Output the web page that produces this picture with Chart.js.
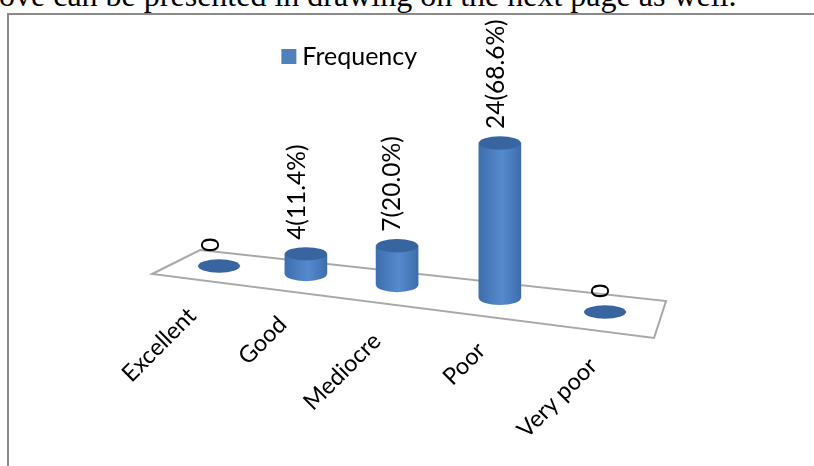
<!DOCTYPE html>
<html><head><meta charset="utf-8">
<style>
html,body{margin:0;padding:0;background:#fff;width:814px;height:466px;overflow:hidden}
#txt{position:absolute;left:-1px;top:-23px;font:32px "Liberation Serif",serif;color:#000;white-space:nowrap}
#frame{position:absolute;left:7px;top:13px;width:807px;height:453px;border-left:2px solid #8a8a8a;border-top:2px solid #8a8a8a;box-sizing:border-box}
#c{position:absolute;left:8px;top:15px}
</style></head><body>
<div id="txt">ove can be presented in drawing on the next page as well.</div>
<div id="frame"></div>
<canvas id="c" width="689" height="451"></canvas>
<script src="https://cdn.jsdelivr.net/npm/chart.js@4"></script>
<script>
const categories=["Excellent","Good","Mediocre","Poor","Very poor"];
const frequency=[0,4,7,24,0];
const dataLabels=["0","4(11.4%)","7(20.0%)","24(68.6%)","0"];
const seriesName="Frequency";
// apparent position of each category along the tilted floor
const xSlots=[0,0.90,1.845,2.91,4];
const floorLevels=[7.12,5.88,4.18,2.17,0];
const perspective=[1,0.78,0.87,1,1];
const floorX=[-0.694,-0.197,4.632,4.508];
const floorY=[5.88,9.6,1.70,-4.02];
// label placement, in axis units
const catLabelX=[-0.28,-0.24,-0.21,-0.19,-0.123];
const catLabelY=[0,-1.32,-3.88,-5.36,-7.76];
const valueNudge=[-8,-9,-5,-4,-4];

const barData=categories.map((c,i)=>({x:xSlots[i],y:[floorLevels[i],floorLevels[i]+frequency[i]*perspective[i]]}));

function shade(ctx){
  const chart=ctx.chart, i=ctx.dataIndex;
  if(i===undefined||!chart.scales.x) return '#4f81bd';
  const cx=chart.scales.x.getPixelForValue(xSlots[i]);
  const g=chart.ctx.createLinearGradient(cx-21,0,cx+21,0);
  g.addColorStop(0,'#3d6fae');g.addColorStop(0.15,'#4476b6');
  g.addColorStop(0.55,'#558ace');g.addColorStop(0.88,'#4476b6');g.addColorStop(1,'#3c6dab');
  return g;
}
function ellipse(c,x,y,rx,ry,fill){c.beginPath();c.ellipse(x,y,rx,ry,0,0,Math.PI*2);c.fillStyle=fill;c.fill();}

const scene={
  id:'scene',
  beforeDatasetsDraw(chart){
    const c=chart.ctx,{x,y}=chart.scales;
    c.save();
    c.beginPath();
    floorX.forEach((v,i)=>{const px=x.getPixelForValue(v),py=y.getPixelForValue(floorY[i]);i?c.lineTo(px,py):c.moveTo(px,py);});
    c.closePath();c.strokeStyle='#a8a8a8';c.lineWidth=2;c.stroke();
    chart.getDatasetMeta(0).data.forEach((b,i)=>{
      if(frequency[i]>0) ellipse(c,b.x,b.base,b.width/2,b.width*0.17,b.options.backgroundColor);
    });
    c.restore();
  },
  afterDatasetsDraw(chart){
    const c=chart.ctx,{x,y}=chart.scales;
    c.save();
    chart.getDatasetMeta(0).data.forEach((b,i)=>{
      ellipse(c,b.x,b.y,b.width/2,b.width*0.16,'#38659f');
      c.save();
      c.translate(b.x+valueNudge[i],b.y-14);
      c.rotate(-Math.PI/2);
      c.font='24.5px Lato';c.fillStyle='#000';c.textAlign='left';c.textBaseline='middle';
      c.fillText(dataLabels[i],0,0);
      c.restore();
      c.save();
      c.translate(x.getPixelForValue(xSlots[i]+catLabelX[i]),y.getPixelForValue(floorLevels[0]+catLabelY[i])+46);
      c.rotate(-Math.PI/4);
      c.font='23.5px Lato';c.fillStyle='#000';c.textAlign='right';c.textBaseline='middle';
      c.fillText(categories[i],0,0);
      c.restore();
    });
    c.restore();
  },
  afterDraw(chart){
    const h=chart.legend.legendHitBoxes[0], c=chart.ctx;
    c.save();c.fillStyle='#4f81bd';
    c.fillRect(h.left-6.5,h.top+5,15,15);
    c.restore();
  }
};

new Chart(document.getElementById('c'),{
  type:'bar',
  data:{datasets:[{label:seriesName,data:barData,backgroundColor:shade,barThickness:42,borderWidth:0}]},
  options:{
    responsive:false,animation:false,
    parsing:{xAxisKey:'x',yAxisKey:'y'},
    layout:{padding:0},
    scales:{
      x:{type:'linear',min:-2.187,max:4.953,offset:false,display:false},
      y:{type:'linear',min:-23.84,max:36.07,display:false}
    },
    plugins:{
      tooltip:{enabled:false},
      legend:{position:'top',align:'center',labels:{
        boxWidth:2,boxHeight:15,padding:29,color:'#000',font:{family:'Lato',size:25},
        generateLabels:()=>[{text:seriesName,fillStyle:'rgba(0,0,0,0)',strokeStyle:'rgba(0,0,0,0)',lineWidth:0,datasetIndex:0}]
      }}
    }
  },
  plugins:[scene]
});
</script>
</body></html>
